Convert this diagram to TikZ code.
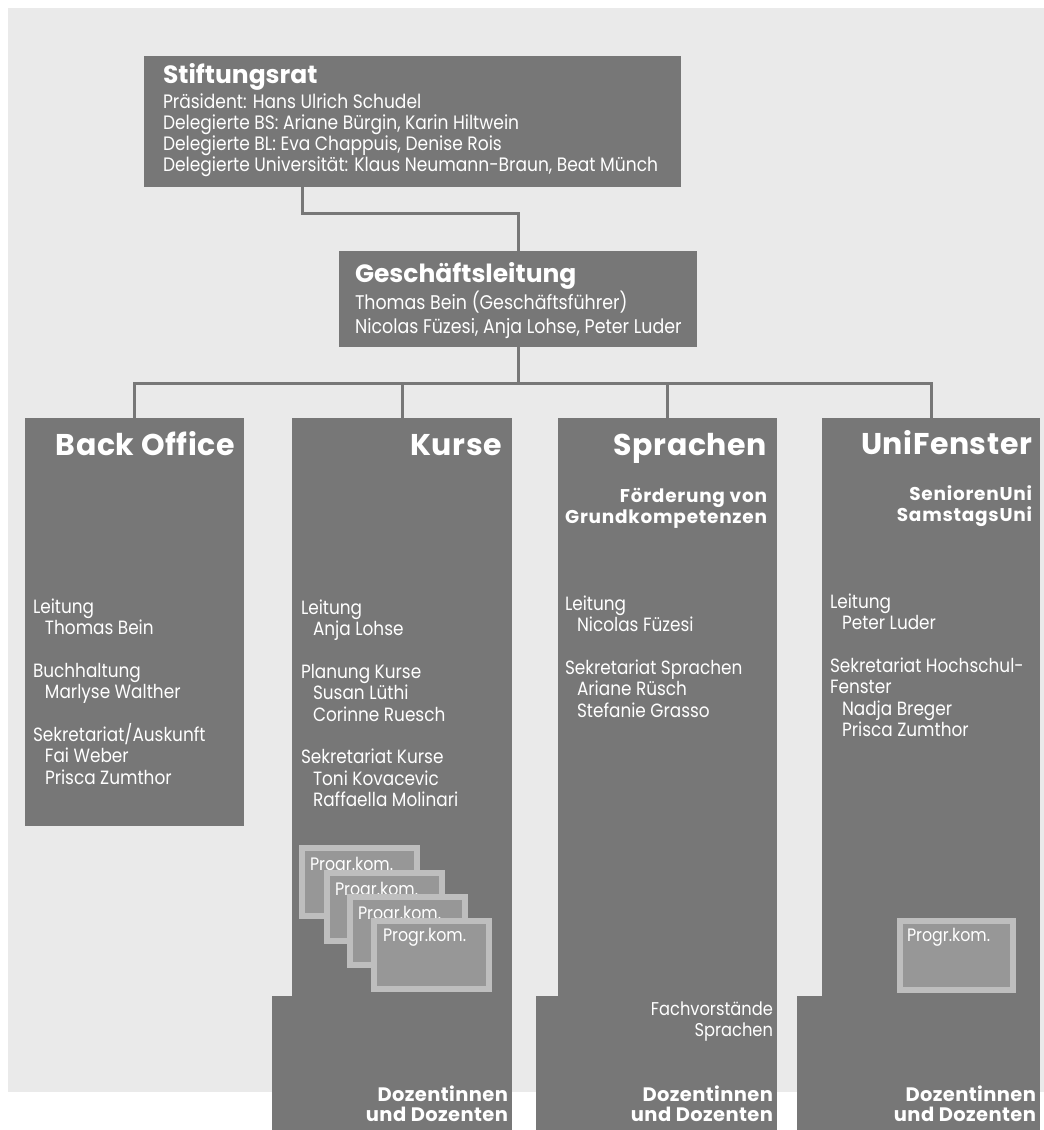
\documentclass[tikz,border=0pt]{standalone}
\usepackage{fontspec}
\usetikzlibrary{calc}
\newfontfamily\bodyf[FakeStretch=0.88]{Poppins}
\newfontfamily\headf{Poppins}
\newfontfamily\headls[LetterSpace=2]{Poppins}
\newfontfamily\subf[LetterSpace=4]{Poppins}
\definecolor{bg}{HTML}{EAEAEA}
\definecolor{boxg}{HTML}{777777}
\definecolor{progb}{HTML}{BEBEBE}
\definecolor{progf}{HTML}{979797}
\newcommand\leftlines[1]{\vtop{\halign{##\hfil\cr#1\crcr}}}
\newcommand\rightlines[1]{\vtop{\halign{\hfil##\cr#1\crcr}}}
\newcommand\ind{\hskip12pt}
\tikzset{
  box/.style={fill=boxg, draw=none, inner sep=0pt, outer sep=0pt, anchor=north west},
  conn/.style={draw=boxg, line width=3pt},
  txt/.style={text=white, inner sep=0pt, outer sep=0pt},
  body/.style={txt, font=\bodyf\fontsize{19.2}{21.4}\selectfont},
  heading/.style={txt, font=\headf\bfseries\fontsize{25}{28}\selectfont},
  depttitle/.style={txt, anchor=base east, font=\headls\bfseries\fontsize{30}{32}\selectfont},
  subtitle/.style={txt, anchor=base east, font=\subf\bfseries\fontsize{18.5}{21}\selectfont},
  doz/.style={txt, anchor=base east, font=\headls\bfseries\fontsize{19.5}{20}\selectfont},
  progbox/.style={fill=progf, draw=progb, line width=6pt, inner sep=0pt, outer sep=0pt,
    anchor=north west, minimum width=115pt, minimum height=68pt},
  progtext/.style={txt, anchor=base west, font=\bodyf\fontsize{18}{20}\selectfont},
}
\begin{document}
\begin{tikzpicture}[x=1pt,y=-1pt]
\useasboundingbox (0,0) rectangle (1044,1130);
\fill[bg] (8,8) rectangle (1044,1092);

% boxes
\node[box, minimum width=537pt, minimum height=131pt] (stift) at (144,56) {};
\node[box, minimum width=358pt, minimum height=96pt] (gesch) at (339,251) {};
\node[box, minimum width=219pt, minimum height=408pt] (bo) at (25,418) {};
\node[box, minimum width=220pt, minimum height=579pt] (ku) at (292,418) {};
\node[box, minimum width=240pt, minimum height=134pt] (kuLow) at (272,996) {};
\node[box, minimum width=219pt, minimum height=579pt] (sp) at (558,418) {};
\node[box, minimum width=241pt, minimum height=134pt] (spLow) at (536,996) {};
\node[box, minimum width=218pt, minimum height=579pt] (uf) at (822,418) {};
\node[box, minimum width=243pt, minimum height=134pt] (ufLow) at (797,996) {};

% connectors
\coordinate (c1) at ($(stift.south west)+(158,0)$);
\draw[conn] (c1) -- ++(0,26) -| (gesch.north);
\coordinate (bus) at ($(bo.north)+(0,-35)$);
\draw[conn] (gesch.south) -- (gesch.south |- bus);
\draw[conn] (bo.north) -- (bus) -| (uf.north);
\draw[conn] (ku.north) -- (ku.north |- bus);
\draw[conn] (sp.north) -- (sp.north |- bus);

% Stiftungsrat
\node[heading, anchor=base west] (stiftT) at (163,83) {Stiftungsrat};
\node[body, anchor=base west, font=\bodyf\fontsize{19.4}{21}\selectfont] (stiftB) at (163,108) {\leftlines{%
Präsident: Hans Ulrich Schudel\cr
Delegierte BS: Ariane Bürgin, Karin Hiltwein\cr
Delegierte BL: Eva Chappuis, Denise Rois\cr
Delegierte Universität: Klaus Neumann-Braun, Beat Münch}};

% Geschaeftsleitung
\node[heading, anchor=base west] (geschT) at (355,282) {Geschäftsleitung};
\node[body, anchor=base west, font=\bodyf\fontsize{19.8}{24}\selectfont] (geschB) at (355,309) {\leftlines{%
Thomas Bein (Geschäftsführer)\cr
Nicolas Füzesi, Anja Lohse, Peter Luder}};

% department titles
\node[depttitle] (boT) at (235,455) {Back Office};
\node[depttitle] (kuT) at (502,455) {Kurse};
\node[depttitle] (spT) at (767,455) {Sprachen};
\node[depttitle] (ufT) at (1032,454) {UniFenster};

\node[subtitle] (spS) at (767,502) {\rightlines{Förderung von\cr Grundkompetenzen}};
\node[subtitle] (ufS) at (1032,500) {\rightlines{SeniorenUni\cr SamstagsUni}};

% department bodies
\node[body, anchor=base west] (boB) at (33,613) {\leftlines{%
Leitung\cr \ind Thomas Bein\cr\cr
Buchhaltung\cr \ind Marlyse Walther\cr\cr
Sekretariat/Auskunft\cr \ind Fai Weber\cr \ind Prisca Zumthor}};
\node[body, anchor=base west] (kuB) at (301,614) {\leftlines{%
Leitung\cr \ind Anja Lohse\cr\cr
Planung Kurse\cr \ind Susan Lüthi\cr \ind Corinne Ruesch\cr\cr
Sekretariat Kurse\cr \ind Toni Kovacevic\cr \ind Raffaella Molinari}};
\node[body, anchor=base west] (spB) at (565,610) {\leftlines{%
Leitung\cr \ind Nicolas Füzesi\cr\cr
Sekretariat Sprachen\cr \ind Ariane Rüsch\cr \ind Stefanie Grasso}};
\node[body, anchor=base west] (ufB) at (830,608) {\leftlines{%
Leitung\cr \ind Peter Luder\cr\cr
Sekretariat Hochschul-\cr Fenster\cr \ind Nadja Breger\cr \ind Prisca Zumthor}};

% Progr.kom. boxes
\node[progbox] (pk1) at (302,848) {};
\node[progtext] (pk1t) at (310,870) {Progr.kom.};
\node[progbox] (pk2) at (327,873) {};
\node[progtext] (pk2t) at (335,895) {Progr.kom.};
\node[progbox] (pk3) at (350,897) {};
\node[progtext] (pk3t) at (358,919) {Progr.kom.};
\node[progbox] (pk4) at (374,921) {};
\node[progtext] (pk4t) at (383,941) {Progr.kom.};
\node[progbox, minimum width=113pt, minimum height=69pt] (pk5) at (900,921) {};
\node[progtext] (pk5t) at (907,941) {Progr.kom.};

% lower parts
\node[body, anchor=base east, font=\bodyf\fontsize{18.5}{21.4}\selectfont] (spF) at (773,1015) {\rightlines{Fachvorstände\cr Sprachen}};
\node[doz] (kuD) at (508,1101) {\rightlines{Dozentinnen\cr und Dozenten}};
\node[doz] (spD) at (773,1101) {\rightlines{Dozentinnen\cr und Dozenten}};
\node[doz] (ufD) at (1036,1101) {\rightlines{Dozentinnen\cr und Dozenten}};
\end{tikzpicture}
\end{document}
